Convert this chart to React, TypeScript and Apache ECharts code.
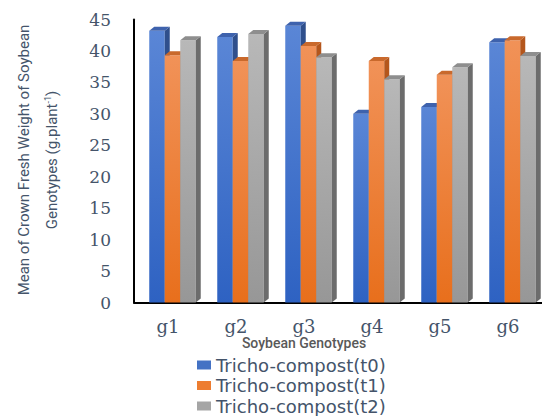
import React, { useEffect, useRef } from "react";
import * as echarts from "echarts";

const categories = ["g1", "g2", "g3", "g4", "g5", "g6"];
const seriesNames = ["Tricho-compost(t0)", "Tricho-compost(t1)", "Tricho-compost(t2)"];
const t0 = [43.2, 42.2, 44.0, 30.0, 31.1, 41.4];
const t1 = [39.3, 38.4, 40.8, 38.4, 36.2, 41.7];
const t2 = [41.7, 42.7, 39.0, 35.5, 37.4, 39.2];
const seriesValues = [t0, t1, t2];
const yMin = 0;
const yMax = 45;
const yInterval = 5;

const palettes = [
  { legend: "#4472c4", top: "#5a86d6", bottom: "#2e62c2", side: "#2f4f8c", cap: "#3e62ad" },
  { legend: "#ed7d31", top: "#f19258", bottom: "#e86f1c", side: "#b4561c", cap: "#c9692c" },
  { legend: "#a5a5a5", top: "#b8b8b8", bottom: "#979797", side: "#6c6c6c", cap: "#8e8e8e" },
];

export default function App() {
  const ref = useRef<HTMLDivElement>(null);
  useEffect(() => {
    if (!ref.current) return;
    const chart = echarts.init(ref.current, null, { renderer: "svg" });
    const w = 15.5;
    const d = 5;
    const dy = 4;
    const shift = 4.5;
    const series = seriesValues.map((vals, idx) => {
      const p = palettes[idx];
      return {
        type: "custom",
        name: seriesNames[idx],
        itemStyle: { color: p.legend },
        data: vals.map((v, i) => [i, v]),
        encode: { x: 0, y: 1 },
        renderItem: (params: any, api: any) => {
          const cat = api.value(0);
          const val = api.value(1);
          const top = api.coord([cat, val]);
          const bot = api.coord([cat, 0]);
          const x0 = top[0] - 1.5 * w + shift + idx * w;
          const x1 = x0 + w;
          const yT = top[1];
          const yB = bot[1];
          return {
            type: "group",
            children: [
              {
                type: "rect",
                shape: { x: x0, y: yT, width: w, height: yB - yT },
                style: {
                  fill: new echarts.graphic.LinearGradient(0, 0, 0, 1, [
                    { offset: 0, color: p.top },
                    { offset: 1, color: p.bottom },
                  ]),
                },
              },
              {
                type: "polygon",
                shape: { points: [[x1, yT], [x1 + d, yT - dy], [x1 + d, yB - dy], [x1, yB]] },
                style: { fill: p.side },
              },
              {
                type: "polygon",
                shape: { points: [[x0, yT], [x0 + d, yT - dy], [x1 + d, yT - dy], [x1, yT]] },
                style: { fill: p.cap },
              },
            ],
          };
        },
      };
    });

    const legends = seriesNames.map((name, i) => ({
      orient: "vertical",
      left: 197,
      top: 356 + i * 20.5,
      padding: 0,
      icon: "rect",
      itemWidth: 14,
      itemHeight: 9,
      itemGap: 0,
      data: [name],
      textStyle: { fontSize: 18, color: "#44546a", fontFamily: "DejaVu Sans", lineHeight: 17 },
    }));

    chart.setOption({
      animation: false,
      grid: { left: 134, top: 19.5, width: 417, height: 283 },
      legend: legends,
      xAxis: {
        type: "category",
        data: categories,
        axisLine: { show: true, lineStyle: { color: "#000", width: 2 } },
        axisTick: { show: false },
        axisLabel: { color: "#44546a", fontFamily: "DejaVu Serif", fontSize: 18, margin: 15 },
      },
      yAxis: {
        type: "value",
        min: yMin,
        max: yMax,
        interval: yInterval,
        axisLine: { show: true, lineStyle: { color: "#000", width: 2 } },
        axisTick: { show: false },
        splitLine: { show: false },
        axisLabel: { color: "#44546a", fontFamily: "DejaVu Serif", fontSize: 17, margin: 23 },
      },
      graphic: [
        {
          type: "text",
          x: 38,
          y: 160,
          rotation: Math.PI / 2,
          style: {
            text: "{a|Mean of Crown Fresh Weight of Soybean}\n{a|Genotypes (g.plant}{s|-1}{a|)}",
            align: "center",
            verticalAlign: "middle",
            rich: {
              a: { fontSize: 15, fontFamily: "Roboto", fill: "#44546a", lineHeight: 28 },
              s: { fontSize: 9, fontFamily: "Roboto", fill: "#44546a", padding: [0, 0, 9, 0] },
            },
          },
        },
        {
          type: "text",
          x: 304,
          y: 343,
          style: {
            text: "Soybean Genotypes",
            align: "center",
            verticalAlign: "middle",
            fontSize: 14,
            fontFamily: "Roboto",
            fontWeight: 500,
            fill: "#595959",
          },
        },
      ],
      series,
    });
    return () => chart.dispose();
  }, []);
  return (
    <div
      ref={ref}
      style={{ position: "absolute", left: 0, top: 0, width: 542, height: 416, background: "#fff" }}
    />
  );
}
